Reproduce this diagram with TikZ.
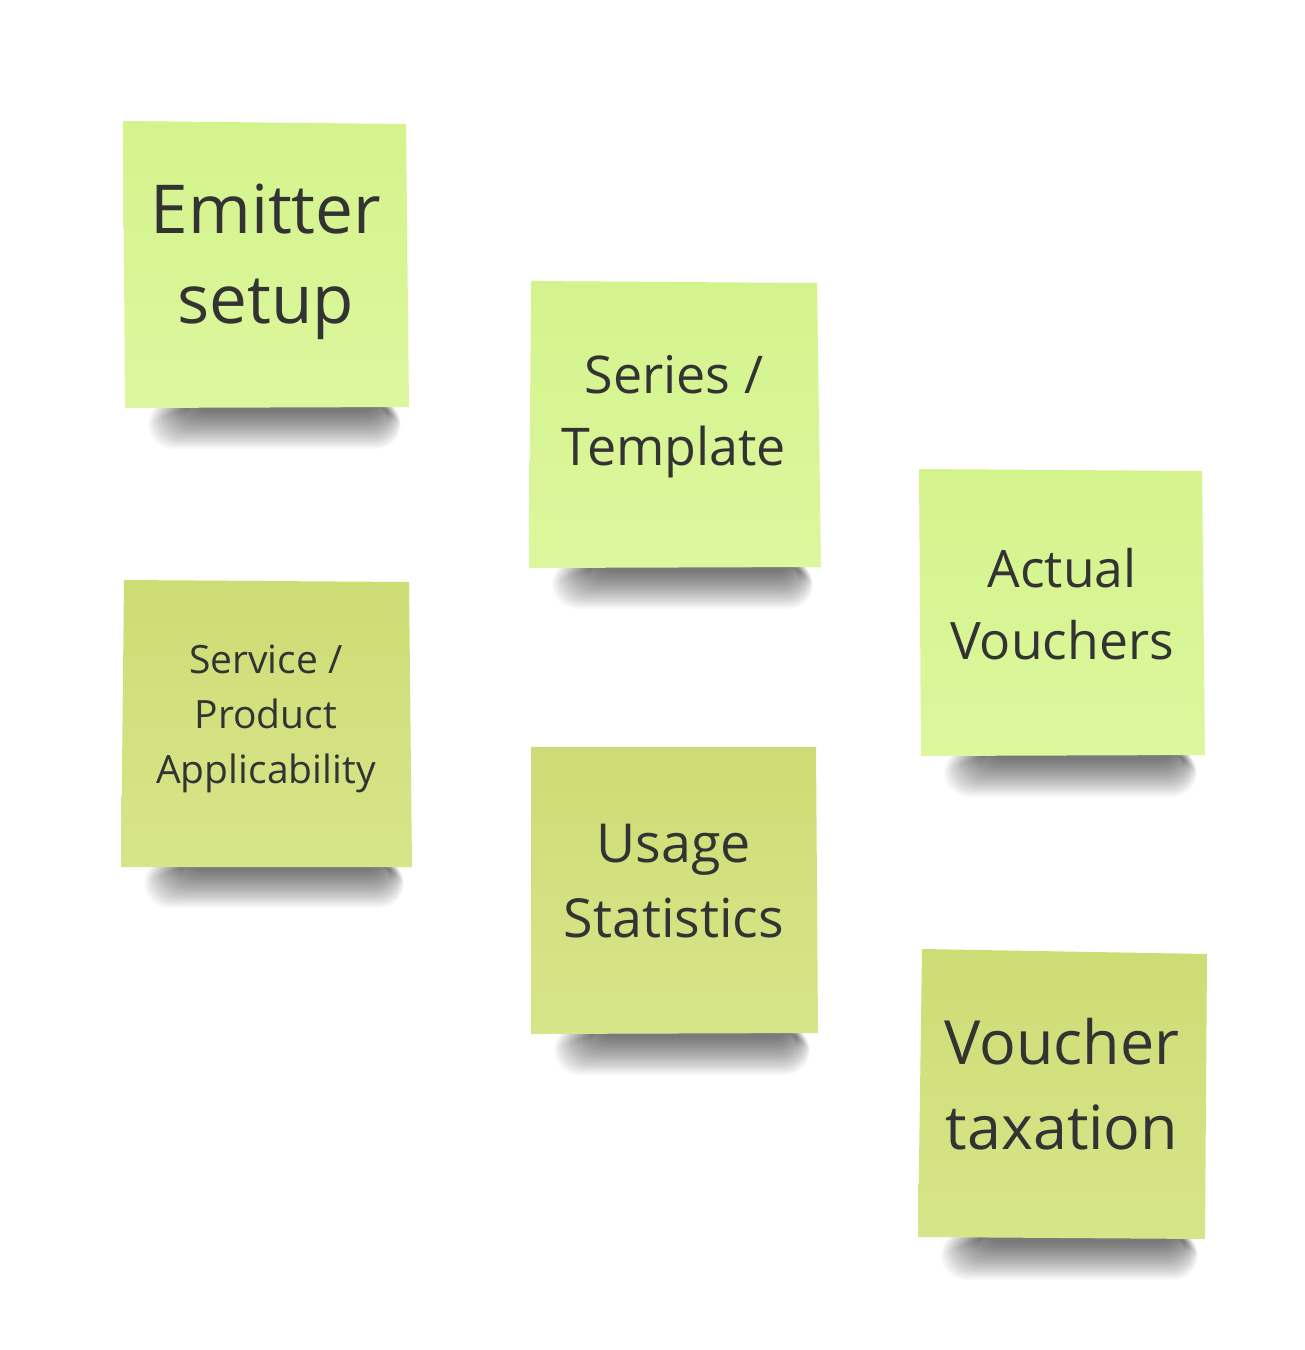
\documentclass[tikz,border=0pt]{standalone}
\usepackage{fontspec}
\setmainfont{Open Sans}
\definecolor{inktext}{HTML}{333333}
\definecolor{limetop}{HTML}{D4F38C}
\definecolor{limebot}{HTML}{DCF79E}
\definecolor{olivetop}{HTML}{CEDC75}
\definecolor{olivebot}{HTML}{D7E58A}
\tikzset{
    lightnote/.style={top color=limetop, bottom color=limebot},
    darknote/.style={top color=olivetop, bottom color=olivebot},
    notetext/.style={text=inktext, align=center, inner sep=0pt},
}
% soft shadow under a note: left x, right x, bottom y
\newcommand{\noteshadow}[3]{%
    \foreach \k in {0,...,23}
        \fill[black, opacity=0.026, rounded corners=14] ({#1+60-\k*1.6},{#3-8}) rectangle ({#2-22+\k*0.6},{#3+4+\k*1.6});
}

\begin{document}
\begin{tikzpicture}[x=0.02cm, y=-0.02cm]
    \fill[white] (0,0) rectangle (1305,1350);
    \useasboundingbox (0,0) rectangle (1305,1350);

    % shadows first
    \noteshadow{125}{409}{408}
    \noteshadow{529}{821}{568}
    \noteshadow{921}{1205}{756}
    \noteshadow{121}{412}{867}
    \noteshadow{531}{818}{1034}
    \noteshadow{918}{1206}{1239}

    % upper notes
    \shade[lightnote] (123,121) -- (406,124) -- (409,407) -- (125,408) -- cycle;
    \node[notetext, font=\fontsize{38.4}{51}\selectfont] (emitter) at (266,262) {Emitter\\setup};

    \shade[lightnote] (531,281) -- (817,283) -- (821,567) -- (529,568) -- cycle;
    \node[notetext, font=\fontsize{29.6}{41}\selectfont] (series) at (674,417) {Series /\\Template};

    \shade[lightnote] (919,469) -- (1202,471) -- (1205,755) -- (921,756) -- cycle;
    \node[notetext, font=\fontsize{29.4}{41}\selectfont] (actual) at (1062,604) {Actual\\Vouchers};

    % lower notes
    \shade[darknote] (124,580) -- (409,582) -- (412,867) -- (121,867) -- cycle;
    \node[notetext, font=\fontsize{22.2}{31.3}\selectfont] (service) at (266,719) {Service /\\Product\\Applicability};

    \shade[darknote] (531,747) -- (816,747) -- (818,1033) -- (531,1034) -- cycle;
    \node[notetext, font=\fontsize{30.6}{43}\selectfont] (usage) at (674,881) {Usage\\Statistics};

    \shade[darknote] (922,949) -- (1207,954) -- (1205,1239) -- (918,1237) -- cycle;
    \node[notetext, font=\fontsize{34.7}{48.4}\selectfont] (taxation) at (1062,1084) {Voucher\\taxation};
\end{tikzpicture}
\end{document}
